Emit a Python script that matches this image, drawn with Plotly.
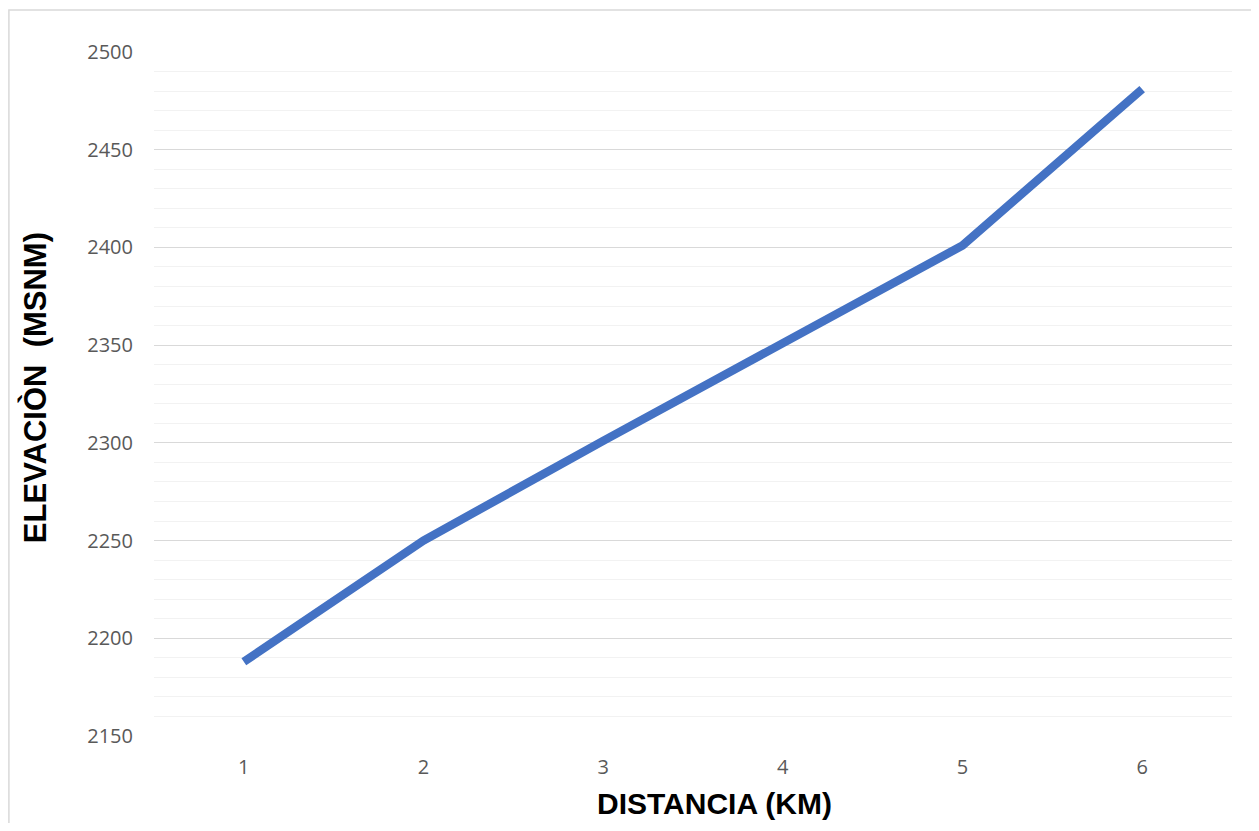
import plotly.graph_objects as go

distancia = [1, 2, 3, 4, 5, 6]
elevacion = [2188, 2250, 2301, 2351, 2401, 2481]
y_ticks = [2150, 2200, 2250, 2300, 2350, 2400, 2450, 2500]

fig = go.Figure()
fig.add_trace(go.Scatter(
    x=distancia, y=elevacion, mode="lines",
    line=dict(color="#4472C4", width=8.5),
    hoverinfo="x+y",
))

tick_font = dict(family="Open Sans, Liberation Sans, sans-serif", size=20, color="#595959")
title_font = dict(family="Liberation Sans, Arial, sans-serif", size=30, color="#000000")
ytitle_font = dict(family="Liberation Sans, Arial, sans-serif", size=31, color="#000000")

fig.update_layout(
    width=1251, height=815,
    margin=dict(l=146, r=27, t=44, b=87),
    paper_bgcolor="white", plot_bgcolor="white",
    showlegend=False,
    xaxis=dict(
        range=[0.5, 6.5], tickmode="array", tickvals=distancia,
        ticktext=[str(v) for v in distancia],
        showgrid=False, zeroline=False, showline=False,
        ticks="", tickfont=tick_font, ticklabelstandoff=17,
    ),
    yaxis=dict(
        range=[2150, 2500], tickmode="array", tickvals=y_ticks,
        showgrid=True, gridcolor="#d9d9d9", gridwidth=1,
        minor=dict(dtick=10, tick0=2150, showgrid=True, gridcolor="#f2f2f2", gridwidth=1),
        zeroline=False, showline=False, ticks="",
        tickfont=tick_font, ticklabelstandoff=20,
    ),
    annotations=[
        dict(text="<b>DISTANCIA (KM)</b>", xref="paper", yref="paper",
             x=0.5204, y=-0.0994, xanchor="center", yanchor="middle",
             showarrow=False, font=title_font),
        dict(text="<b>ELEVACIÒN  (MSNM)</b>", xref="paper", yref="paper",
             x=-0.1104, y=0.51, xanchor="center", yanchor="middle",
             textangle=-90, showarrow=False, font=ytitle_font),
    ],
    shapes=[
        dict(type="rect", xref="paper", yref="paper",
             x0=-0.1346, y0=-0.3, x1=1.2, y1=1.0614,
             line=dict(color="#d9d9d9", width=1.5), fillcolor="rgba(0,0,0,0)", layer="below"),
    ],
)

fig.write_html("out.html")
